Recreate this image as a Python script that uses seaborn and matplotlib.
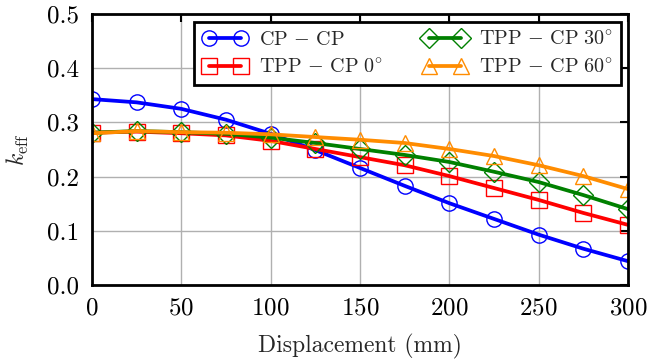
import pandas as pd
import matplotlib
matplotlib.use("Agg")
import matplotlib.pyplot as plt
import seaborn as sns

displacement = [0, 25, 50, 75, 100, 125, 150, 175, 200, 225, 250, 275, 300]
cp_cp = [0.343, 0.337, 0.325, 0.305, 0.279, 0.249, 0.216, 0.183, 0.151, 0.122, 0.093, 0.067, 0.044]
tpp_0 = [0.281, 0.283, 0.280, 0.276, 0.266, 0.251, 0.236, 0.221, 0.201, 0.179, 0.157, 0.133, 0.111]
tpp_30 = [0.281, 0.284, 0.282, 0.279, 0.272, 0.262, 0.251, 0.240, 0.227, 0.209, 0.190, 0.166, 0.140]
tpp_60 = [0.280, 0.284, 0.282, 0.281, 0.278, 0.273, 0.268, 0.262, 0.251, 0.238, 0.221, 0.201, 0.177]

labels = [r"$\mathrm{CP}\,-\,\mathrm{CP}$", r"$\mathrm{TPP}\,-\,\mathrm{CP}\ 0^{\circ}$",
          r"$\mathrm{TPP}\,-\,\mathrm{CP}\ 30^{\circ}$", r"$\mathrm{TPP}\,-\,\mathrm{CP}\ 60^{\circ}$"]
series = [cp_cp, tpp_0, tpp_30, tpp_60]
colors = ["#0000ff", "#ff0000", "#008000", "#ff8c00"]
markers = ["o", "s", "D", "^"]
msizes = [11, 11, 10, 11]

sns.set_style("whitegrid")
plt.rcParams["font.family"] = ["cmr10"]
plt.rcParams["mathtext.fontset"] = "cm"
plt.rcParams["axes.formatter.use_mathtext"] = True

fig = plt.figure(figsize=(6.5, 3.62), dpi=100)
ax = fig.add_axes([0.1415, 0.2127, 0.8245, 0.7486])

for vals, lab, c, m, ms in zip(series, labels, colors, markers, msizes):
    df = pd.DataFrame({"x": displacement, "y": vals})
    sns.lineplot(data=df, x="x", y="y", ax=ax, color=c, marker=m, markersize=ms,
                 markerfacecolor="none", markeredgecolor=c, markeredgewidth=1.0,
                 linewidth=2.7, label=lab)

ax.set_xlim(0, 300)
ax.set_ylim(0, 0.5)
ax.set_xticks([0, 50, 100, 150, 200, 250, 300])
ax.set_yticks([0.0, 0.1, 0.2, 0.3, 0.4, 0.5])
ax.set_yticklabels(["0.0", "0.1", "0.2", "0.3", "0.4", "0.5"])
ax.grid(True, color="#b0b0b0", linewidth=1.0)
for s in ax.spines.values():
    s.set_color("black")
    s.set_linewidth(2)
ax.tick_params(direction="in", length=6, width=1.5, top=True, right=True,
               labelsize=18, colors="black", pad=9)
ax.set_xlabel("Displacement (mm)", fontsize=17, labelpad=10)
ax.set_ylabel(r"$k_{\mathrm{eff}}$", fontsize=17, labelpad=12)

leg = ax.legend(ncol=2, loc="upper right", bbox_to_anchor=(0.988, 0.972), fontsize=14.5,
                numpoints=2, handlelength=2.2, fancybox=False, framealpha=1,
                edgecolor="black", borderpad=0.4, labelspacing=0.45, columnspacing=2.0,
                handletextpad=0.6, borderaxespad=0)
leg.get_frame().set_linewidth(2)

fig.savefig("out.png", dpi=100)
